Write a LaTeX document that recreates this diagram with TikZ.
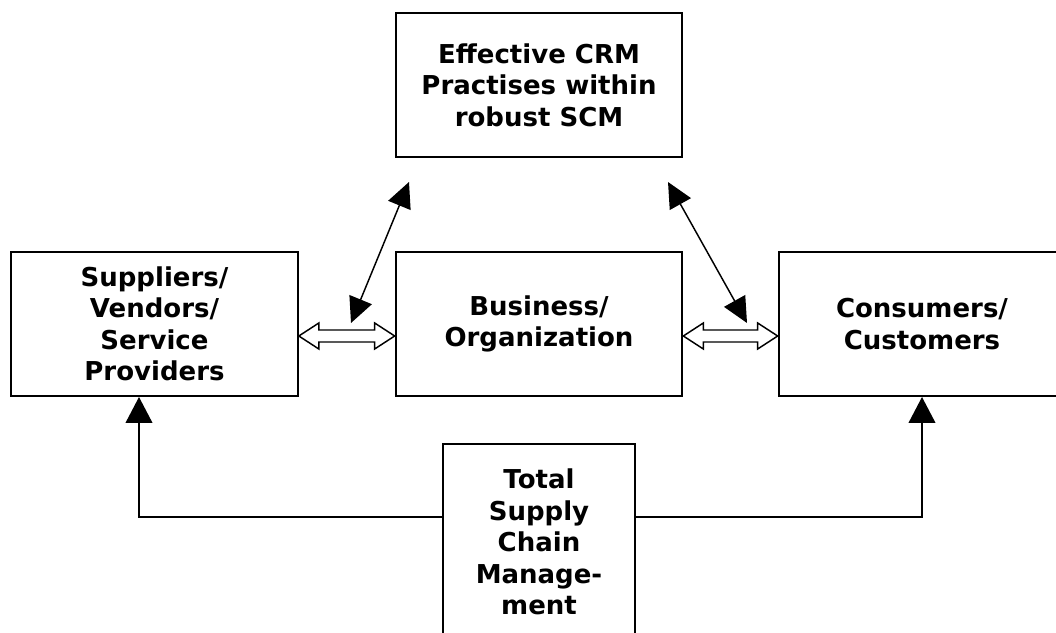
\documentclass[tikz,border=0pt]{standalone}
\usepackage{fontspec}
\setmainfont{DejaVu Sans}
\usetikzlibrary{arrows.meta,calc}
\tikzset{
  box/.style={draw,line width=1.5pt,rectangle,align=center,inner sep=0pt,
    minimum width=215pt,minimum height=108pt,
    font=\bfseries\fontsize{19.5}{23.6}\selectfont},
  link/.style={line width=1.1pt,{Triangle[length=19pt,width=18pt]}-{Triangle[length=19pt,width=18pt]}},
  feed/.style={line width=1.5pt,-{Triangle[length=19.5pt,width=20pt]}},
  dblarrow/.style={line width=1.1pt,line join=miter,fill=white}
}
\begin{document}
\begin{tikzpicture}[x=0.75pt,y=0.75pt]
\useasboundingbox (0,0) rectangle (1056,632);
\node[box] (crm) at (539,547) {Effective CRM\\Practises within\\robust SCM};
\node[box] (sup) at (154.5,308) {Suppliers/\\Vendors/\\Service\\Providers};
\node[box] (bus) at (539,308) {Business/\\Organization};
\node[box] (con) at (922,308) {Consumers/\\Customers};
\node[box,minimum width=144pt,minimum height=147pt] (tscm) at (539,90)
  {Total\\Supply\\Chain\\Manage-\\ment};
% hollow double arrows between the boxes
\coordinate (dl) at (0,296);
\foreach \a/\b in {sup/bus,bus/con}{
  \draw[dblarrow] (\a.east |- dl) -- ++(20,13) -- ++(0,-7)
    -- ($(\b.west |- dl)+(-20,6)$) -- ++(0,7) -- (\b.west |- dl)
    -- ++(-20,-13) -- ++(0,7) -- ($(\a.east |- dl)+(20,-6)$) -- ++(0,-7) -- cycle;
}
% links to the CRM box
\coordinate (lt) at (409,450);
\coordinate (lb) at (351,309);
\coordinate (rt) at (668,450);
\coordinate (rb) at (747,309);
\draw[link] (lb) -- (lt);
\draw[link] (rt) -- (rb);
% total SCM feeding both ends
\draw[feed] ($(tscm.west)+(0,25)$) -| ($(sup.south)+(-15.5,0)$);
\draw[feed] ($(tscm.east)+(0,25)$) -| (con.south);
\end{tikzpicture}
\end{document}
